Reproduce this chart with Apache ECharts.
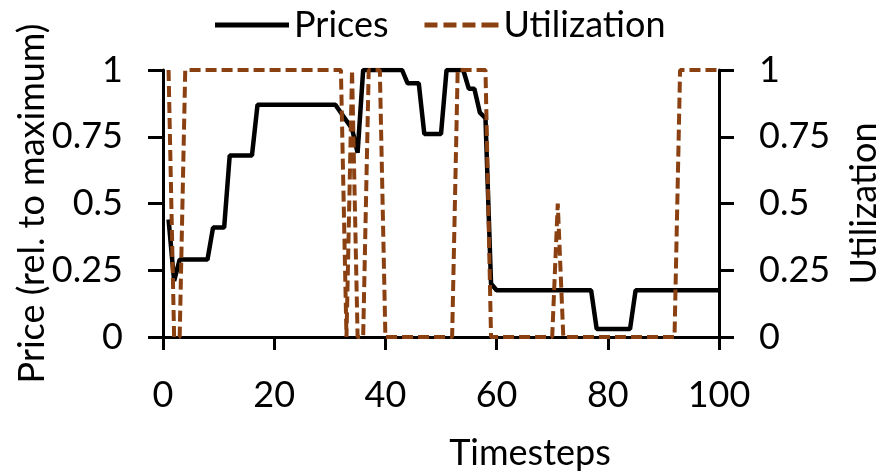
<!DOCTYPE html>
<html>
<head>
<meta charset="utf-8">
<script src="https://cdn.jsdelivr.net/npm/echarts@6/dist/echarts.min.js"></script>
<style>
  html, body { margin: 0; padding: 0; background: #fff; }
  #chart { width: 887px; height: 474px; }
</style>
</head>
<body>
<div id="chart"></div>
<script>
  // price curve, relative to maximum (break points only, straight lines between)
  const priceT = [1, 2, 3, 8, 9, 11, 12, 16, 17, 31, 32, 33, 34, 35, 36, 43, 44, 46, 47, 50, 51, 54, 55, 56, 57, 58, 59, 60, 77, 78, 84, 85, 100];
  const priceV = [0.44, 0.21, 0.29, 0.29, 0.41, 0.41, 0.68, 0.68, 0.87, 0.87, 0.84, 0.81, 0.78, 0.69, 1, 1, 0.95, 0.95, 0.76, 0.76, 1, 1, 0.93, 0.93, 0.84, 0.82, 0.2, 0.175, 0.175, 0.03, 0.03, 0.175, 0.175];

  // utilization
  const utilT = [1, 2, 3, 4, 32, 33, 34, 35, 36, 37, 39, 40, 52, 53, 58, 59, 70, 71, 72, 92, 93, 100];
  const utilV = [1, 0, 0, 1, 1, 0, 1, 0, 0, 1, 1, 0, 0, 1, 1, 0, 0, 0.5, 0, 0, 1, 1];

  const yTicks = [0, 0.25, 0.5, 0.75, 1];
  const xTicks = [0, 20, 40, 60, 80, 100];

  const font = 'Lato';
  const fontSize = 36;
  const brown = '#8a4010';

  // legend keys drawn as a plain bar and as four dashes
  const solidIcon = 'path://M0,0H74V5H0Z';
  const dashIcon = 'path://M0,0H13V5H0Z M19,0H32V5H19Z M38,0H51V5H38Z M57,0H74V5H57Z';

  const zip = (xs, ys) => xs.map((x, i) => [x, ys[i]]);

  const yAxisBase = {
    type: 'value',
    min: yTicks[0],
    max: yTicks[yTicks.length - 1],
    interval: 0.25,
    nameLocation: 'middle',
    nameMoveOverlap: false,
    nameTextStyle: { fontFamily: font, fontSize: fontSize, color: '#000' },
    axisLine: { show: true, lineStyle: { color: '#000', width: 3 } },
    axisTick: { show: true, length: 15, lineStyle: { color: '#000', width: 3 } },
    axisLabel: { fontFamily: font, fontSize: fontSize, color: '#000', margin: 40 },
    splitLine: { show: false },
  };

  const chart = echarts.init(document.getElementById('chart'));

  chart.setOption({
    animation: false,
    grid: { left: 163, right: 168, top: 70, bottom: 137, outerBoundsMode: 'none', containLabel: false },
    legend: {
      top: 2,
      left: 210,
      itemWidth: 74,
      itemHeight: 5,
      itemGap: 36,
      textStyle: { fontFamily: font, fontSize: fontSize, color: '#000' },
      data: [
        { name: 'Prices', icon: solidIcon },
        { name: 'Utilization', icon: dashIcon },
      ],
    },
    xAxis: {
      type: 'value',
      min: xTicks[0],
      max: xTicks[xTicks.length - 1],
      interval: 20,
      name: 'Timesteps',
      nameLocation: 'middle',
      nameMoveOverlap: false,
      nameGap: 98,
      nameTextStyle: { fontFamily: font, fontSize: fontSize, color: '#000', padding: [0, 0, 0, 178] },
      axisLine: { show: true, lineStyle: { color: '#000', width: 3 } },
      axisTick: { show: true, length: 13, lineStyle: { color: '#000', width: 3 } },
      axisLabel: { fontFamily: font, fontSize: fontSize, color: '#000', margin: 40 },
      splitLine: { show: false },
    },
    yAxis: [
      Object.assign({}, yAxisBase, { name: 'Price (rel. to maximum)', nameGap: 113 }),
      Object.assign({}, yAxisBase, { name: 'Utilization', nameGap: 127, position: 'right' }),
    ],
    series: [
      {
        name: 'Prices',
        type: 'line',
        yAxisIndex: 0,
        symbol: 'none',
        data: zip(priceT, priceV),
        lineStyle: { color: '#000', width: 4.5 },
        itemStyle: { color: '#000' },
      },
      {
        name: 'Utilization',
        type: 'line',
        yAxisIndex: 1,
        symbol: 'none',
        data: zip(utilT, utilV),
        lineStyle: { color: brown, width: 4, type: [11, 5] },
        itemStyle: { color: brown },
      },
    ],
  });
</script>
</body>
</html>
